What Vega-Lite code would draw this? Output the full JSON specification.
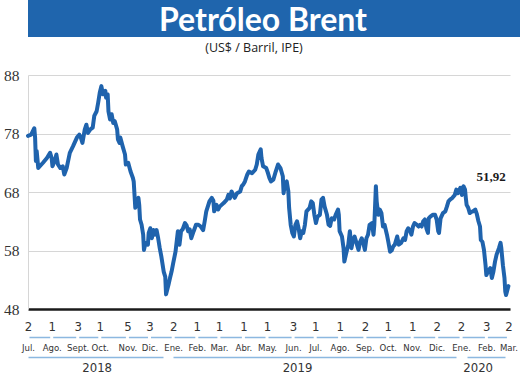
{
  "$schema": "https://vega.github.io/schema/vega-lite/v6.json",
  "background": "white",
  "padding": {"left": 3, "top": 0, "right": 4, "bottom": 0},
  "spacing": 4,
  "config": {"view": {"stroke": null}, "font": "Open Sans"},
  "vconcat": [
    {
      "width": 510,
      "height": 37,
      "view": {"fill": "#1f65ad", "stroke": null},
      "data": {"values": [{"t": "Petróleo Brent", "pos": 0.5}]},
      "mark": {"type": "text", "font": "Lato", "fontWeight": "bold", "fontSize": 32, "color": "white", "baseline": "middle", "align": "center", "dy": 2, "dx": -20},
      "encoding": {
        "text": {"field": "t"},
        "x": {"field": "pos", "type": "quantitative", "scale": {"domain": [0, 1]}, "axis": null},
        "y": {"field": "pos", "type": "quantitative", "scale": {"domain": [0, 1]}, "axis": null}
      }
    },
    {
      "width": 482,
      "height": 234,
      "title": {"text": "(US$ / Barril, IPE)", "fontSize": 12.5, "fontWeight": "normal", "font": "Open Sans", "color": "#222222", "offset": 14, "dx": -15},
      "resolve": {"axis": {"x": "independent", "y": "independent"}},
      "layer": [
        {
          "data": {"values": [
            {"d":"2018-07-02","p":77.6},{"d":"2018-07-06","p":77.8},{"d":"2018-07-10","p":78.9},{"d":"2018-07-11","p":77.3},{"d":"2018-07-12","p":73.3},{"d":"2018-07-13","p":75.0},{"d":"2018-07-15","p":72.1},{"d":"2018-07-21","p":73.0},{"d":"2018-07-26","p":73.8},{"d":"2018-07-30","p":74.7},
            {"d":"2018-08-01","p":73.8},{"d":"2018-08-02","p":72.4},{"d":"2018-08-05","p":73.3},{"d":"2018-08-07","p":74.4},{"d":"2018-08-09","p":72.7},{"d":"2018-08-12","p":72.1},{"d":"2018-08-15","p":72.4},{"d":"2018-08-17","p":71.0},{"d":"2018-08-20","p":72.1},{"d":"2018-08-24","p":74.7},{"d":"2018-08-28","p":75.8},
            {"d":"2018-09-02","p":77.3},{"d":"2018-09-05","p":77.8},{"d":"2018-09-07","p":77.3},{"d":"2018-09-09","p":76.4},{"d":"2018-09-12","p":78.7},{"d":"2018-09-14","p":79.5},{"d":"2018-09-16","p":78.1},{"d":"2018-09-19","p":78.7},{"d":"2018-09-22","p":79.0},{"d":"2018-09-24","p":81.0},{"d":"2018-09-27","p":81.8},{"d":"2018-09-29","p":83.3},
            {"d":"2018-10-01","p":85.0},{"d":"2018-10-03","p":86.1},{"d":"2018-10-05","p":84.7},{"d":"2018-10-08","p":85.3},{"d":"2018-10-09","p":84.1},{"d":"2018-10-11","p":84.7},{"d":"2018-10-12","p":81.8},{"d":"2018-10-14","p":80.4},{"d":"2018-10-16","p":81.3},{"d":"2018-10-18","p":79.8},{"d":"2018-10-20","p":80.1},{"d":"2018-10-23","p":78.7},{"d":"2018-10-24","p":77.0},{"d":"2018-10-26","p":76.4},{"d":"2018-10-27","p":77.3},{"d":"2018-10-30","p":75.8},
            {"d":"2018-11-02","p":74.4},{"d":"2018-11-03","p":72.7},{"d":"2018-11-06","p":73.0},{"d":"2018-11-09","p":71.5},{"d":"2018-11-12","p":70.4},{"d":"2018-11-13","p":69.8},{"d":"2018-11-15","p":65.3},{"d":"2018-11-17","p":66.4},{"d":"2018-11-19","p":67.0},{"d":"2018-11-20","p":65.8},{"d":"2018-11-21","p":63.3},{"d":"2018-11-23","p":62.4},{"d":"2018-11-25","p":60.7},{"d":"2018-11-26","p":58.1},{"d":"2018-11-28","p":59.3},
            {"d":"2018-12-01","p":59.0},{"d":"2018-12-02","p":61.0},{"d":"2018-12-04","p":61.8},{"d":"2018-12-06","p":60.1},{"d":"2018-12-08","p":61.5},{"d":"2018-12-10","p":60.7},{"d":"2018-12-12","p":61.5},{"d":"2018-12-14","p":60.1},{"d":"2018-12-16","p":58.4},{"d":"2018-12-18","p":57.0},{"d":"2018-12-21","p":54.4},{"d":"2018-12-23","p":53.5},{"d":"2018-12-24","p":50.5},{"d":"2018-12-27","p":52.1},{"d":"2018-12-29","p":53.3},{"d":"2018-12-31","p":54.4},
            {"d":"2019-01-02","p":55.8},{"d":"2019-01-05","p":57.8},{"d":"2019-01-08","p":61.3},{"d":"2019-01-10","p":59.0},{"d":"2019-01-12","p":61.3},{"d":"2019-01-14","p":61.6},{"d":"2019-01-17","p":62.7},{"d":"2019-01-19","p":62.3},{"d":"2019-01-21","p":61.3},{"d":"2019-01-23","p":61.6},{"d":"2019-01-25","p":60.1},{"d":"2019-01-28","p":61.3},{"d":"2019-01-31","p":62.4},
            {"d":"2019-02-03","p":62.4},{"d":"2019-02-06","p":62.1},{"d":"2019-02-09","p":61.5},{"d":"2019-02-11","p":63.0},{"d":"2019-02-13","p":64.7},{"d":"2019-02-17","p":66.4},{"d":"2019-02-20","p":67.0},{"d":"2019-02-22","p":66.5},{"d":"2019-02-23","p":64.7},{"d":"2019-02-26","p":65.8},{"d":"2019-02-28","p":65.0},
            {"d":"2019-03-02","p":65.5},{"d":"2019-03-07","p":66.1},{"d":"2019-03-11","p":66.7},{"d":"2019-03-13","p":67.5},{"d":"2019-03-15","p":66.9},{"d":"2019-03-17","p":68.1},{"d":"2019-03-19","p":67.5},{"d":"2019-03-21","p":67.0},{"d":"2019-03-24","p":67.8},{"d":"2019-03-28","p":68.1},{"d":"2019-03-30","p":69.0},
            {"d":"2019-04-01","p":69.3},{"d":"2019-04-03","p":69.8},{"d":"2019-04-06","p":71.0},{"d":"2019-04-08","p":71.5},{"d":"2019-04-12","p":71.2},{"d":"2019-04-16","p":71.8},{"d":"2019-04-18","p":72.7},{"d":"2019-04-20","p":74.4},{"d":"2019-04-23","p":75.3},{"d":"2019-04-24","p":73.8},{"d":"2019-04-26","p":72.4},{"d":"2019-04-30","p":72.1},
            {"d":"2019-05-02","p":71.3},{"d":"2019-05-04","p":70.4},{"d":"2019-05-06","p":69.8},{"d":"2019-05-09","p":70.1},{"d":"2019-05-12","p":71.5},{"d":"2019-05-15","p":72.7},{"d":"2019-05-18","p":72.1},{"d":"2019-05-21","p":70.7},{"d":"2019-05-22","p":67.8},{"d":"2019-05-24","p":69.5},{"d":"2019-05-26","p":69.8},{"d":"2019-05-28","p":68.1},{"d":"2019-05-29","p":65.3},{"d":"2019-05-31","p":62.4},
            {"d":"2019-06-02","p":61.0},{"d":"2019-06-04","p":60.4},{"d":"2019-06-06","p":62.4},{"d":"2019-06-08","p":63.0},{"d":"2019-06-10","p":61.8},{"d":"2019-06-12","p":60.1},{"d":"2019-06-14","p":61.3},{"d":"2019-06-16","p":61.0},{"d":"2019-06-18","p":62.4},{"d":"2019-06-20","p":64.7},{"d":"2019-06-24","p":65.3},{"d":"2019-06-26","p":66.4},{"d":"2019-06-28","p":66.1},{"d":"2019-06-30","p":64.1},
            {"d":"2019-07-02","p":62.7},{"d":"2019-07-04","p":63.8},{"d":"2019-07-07","p":64.1},{"d":"2019-07-09","p":66.7},{"d":"2019-07-11","p":67.0},{"d":"2019-07-13","p":65.5},{"d":"2019-07-16","p":64.1},{"d":"2019-07-18","p":62.4},{"d":"2019-07-20","p":62.2},{"d":"2019-07-22","p":63.5},{"d":"2019-07-25","p":63.3},{"d":"2019-07-27","p":64.1},{"d":"2019-07-30","p":65.0},{"d":"2019-07-31","p":64.1},
            {"d":"2019-08-01","p":61.3},{"d":"2019-08-04","p":60.4},{"d":"2019-08-06","p":58.4},{"d":"2019-08-07","p":56.1},{"d":"2019-08-09","p":57.3},{"d":"2019-08-12","p":59.0},{"d":"2019-08-14","p":61.3},{"d":"2019-08-16","p":58.4},{"d":"2019-08-18","p":59.8},{"d":"2019-08-20","p":60.4},{"d":"2019-08-23","p":59.0},{"d":"2019-08-25","p":58.1},{"d":"2019-08-27","p":59.5},{"d":"2019-08-29","p":60.1},{"d":"2019-08-31","p":59.3},
            {"d":"2019-09-02","p":58.1},{"d":"2019-09-04","p":60.1},{"d":"2019-09-06","p":60.7},{"d":"2019-09-08","p":62.4},{"d":"2019-09-11","p":62.7},{"d":"2019-09-13","p":60.7},{"d":"2019-09-14","p":62.4},{"d":"2019-09-16","p":69.0},{"d":"2019-09-17","p":66.4},{"d":"2019-09-19","p":64.1},{"d":"2019-09-21","p":65.0},{"d":"2019-09-23","p":64.4},{"d":"2019-09-25","p":62.1},{"d":"2019-09-27","p":62.4},{"d":"2019-09-30","p":60.7},
            {"d":"2019-10-02","p":59.3},{"d":"2019-10-04","p":57.8},{"d":"2019-10-06","p":58.0},{"d":"2019-10-08","p":58.7},{"d":"2019-10-10","p":59.0},{"d":"2019-10-13","p":60.4},{"d":"2019-10-15","p":59.0},{"d":"2019-10-18","p":59.3},{"d":"2019-10-21","p":60.1},{"d":"2019-10-23","p":59.8},{"d":"2019-10-25","p":61.3},{"d":"2019-10-27","p":61.8},{"d":"2019-10-29","p":61.5},{"d":"2019-10-31","p":60.7},
            {"d":"2019-11-02","p":62.1},{"d":"2019-11-04","p":62.7},{"d":"2019-11-07","p":62.4},{"d":"2019-11-09","p":62.1},{"d":"2019-11-11","p":62.4},{"d":"2019-11-13","p":62.1},{"d":"2019-11-15","p":63.0},{"d":"2019-11-17","p":63.3},{"d":"2019-11-19","p":61.8},{"d":"2019-11-21","p":61.0},{"d":"2019-11-22","p":63.5},{"d":"2019-11-24","p":63.8},{"d":"2019-11-27","p":64.1},{"d":"2019-11-30","p":64.1},
            {"d":"2019-12-02","p":63.3},{"d":"2019-12-04","p":61.3},{"d":"2019-12-05","p":61.0},{"d":"2019-12-07","p":63.5},{"d":"2019-12-10","p":64.4},{"d":"2019-12-13","p":64.7},{"d":"2019-12-15","p":65.5},{"d":"2019-12-17","p":66.4},{"d":"2019-12-19","p":66.7},{"d":"2019-12-22","p":67.0},{"d":"2019-12-25","p":67.5},{"d":"2019-12-27","p":68.4},{"d":"2019-12-29","p":67.8},
            {"d":"2020-01-01","p":68.7},{"d":"2020-01-03","p":67.5},{"d":"2020-01-05","p":69.0},{"d":"2020-01-07","p":68.4},{"d":"2020-01-08","p":67.0},{"d":"2020-01-09","p":65.8},{"d":"2020-01-11","p":65.3},{"d":"2020-01-13","p":64.4},{"d":"2020-01-15","p":64.6},{"d":"2020-01-17","p":64.7},{"d":"2020-01-20","p":65.0},{"d":"2020-01-22","p":64.2},{"d":"2020-01-24","p":63.0},{"d":"2020-01-26","p":62.1},{"d":"2020-01-27","p":59.8},{"d":"2020-01-29","p":59.5},{"d":"2020-01-31","p":58.1},
            {"d":"2020-02-02","p":55.5},{"d":"2020-02-03","p":53.8},{"d":"2020-02-05","p":54.4},{"d":"2020-02-08","p":55.0},{"d":"2020-02-10","p":53.3},{"d":"2020-02-12","p":54.4},{"d":"2020-02-14","p":56.1},{"d":"2020-02-16","p":57.3},{"d":"2020-02-19","p":58.4},{"d":"2020-02-21","p":59.3},{"d":"2020-02-22","p":58.4},{"d":"2020-02-24","p":55.5},{"d":"2020-02-26","p":53.3},{"d":"2020-02-27","p":51.0},{"d":"2020-02-28","p":50.4},{"d":"2020-03-02","p":51.92}
          ]},
          "mark": {"type": "line", "color": "#1f63ad", "strokeWidth": 4, "strokeJoin": "round", "strokeCap": "round"},
          "encoding": {
            "x": {
              "field": "d", "type": "temporal",
              "scale": {"type": "utc", "domain": [{"year": 2018, "month": "jul", "date": 2, "utc": true}, {"year": 2020, "month": "mar", "date": 4, "utc": true}]},
              "axis": {
                "orient": "bottom", "title": null, "grid": false,
                "values": [
                  {"year":2018,"month":"jul","date":2,"utc":true},{"year":2018,"month":"aug","date":1,"utc":true},{"year":2018,"month":"sep","date":3,"utc":true},{"year":2018,"month":"oct","date":1,"utc":true},{"year":2018,"month":"nov","date":5,"utc":true},{"year":2018,"month":"dec","date":3,"utc":true},
                  {"year":2019,"month":"jan","date":2,"utc":true},{"year":2019,"month":"feb","date":1,"utc":true},{"year":2019,"month":"mar","date":1,"utc":true},{"year":2019,"month":"apr","date":1,"utc":true},{"year":2019,"month":"may","date":1,"utc":true},{"year":2019,"month":"jun","date":3,"utc":true},
                  {"year":2019,"month":"jul","date":1,"utc":true},{"year":2019,"month":"aug","date":1,"utc":true},{"year":2019,"month":"sep","date":2,"utc":true},{"year":2019,"month":"oct","date":1,"utc":true},{"year":2019,"month":"nov","date":1,"utc":true},{"year":2019,"month":"dec","date":2,"utc":true},
                  {"year":2020,"month":"jan","date":2,"utc":true},{"year":2020,"month":"feb","date":3,"utc":true},{"year":2020,"month":"mar","date":2,"utc":true}
                ],
                "labelExpr": "'' + utcdate(datum.value)",
                "domain": true, "domainColor": "#1a1a1a", "domainWidth": 2.5,
                "ticks": false, "tickSize": 0,
                "labelPadding": 11, "labelFont": "Liberation Sans Narrow, DejaVu Sans Condensed, Open Sans", "labelFontSize": 13, "labelColor": "#333333",
                "labelFlush": false, "labelOverlap": false
              }
            },
            "y": {
              "field": "p", "type": "quantitative",
              "scale": {"domain": [48, 88], "zero": false, "nice": false},
              "axis": {
                "title": null, "values": [48, 58, 68, 78, 88],
                "grid": true, "gridColor": "#d6d6d6", "gridWidth": 1.2,
                "domain": true, "domainColor": "#d6d6d6", "domainWidth": 1,
                "ticks": false, "labelPadding": 9,
                "labelFont": "Liberation Serif", "labelFontSize": 15.5, "labelColor": "#333333"
              }
            }
          }
        },
        {
          "data": {"values": [{"d": "2020-02-09", "p": 70.6, "label": "51,92"}]},
          "mark": {"type": "text", "font": "Liberation Serif", "fontWeight": "bold", "fontSize": 13, "color": "#1a1a1a", "baseline": "middle", "align": "center"},
          "encoding": {
            "text": {"field": "label"},
            "x": {
              "field": "d", "type": "temporal",
              "scale": {"type": "utc", "domain": [{"year": 2018, "month": "jul", "date": 2, "utc": true}, {"year": 2020, "month": "mar", "date": 4, "utc": true}]},
              "axis": {
                "orient": "bottom", "offset": 28, "title": null, "grid": false,
                "values": [
                  {"year":2018,"month":"jul","date":2,"utc":true},{"year":2018,"month":"aug","date":1,"utc":true},{"year":2018,"month":"sep","date":3,"utc":true},{"year":2018,"month":"oct","date":1,"utc":true},{"year":2018,"month":"nov","date":5,"utc":true},{"year":2018,"month":"dec","date":3,"utc":true},
                  {"year":2019,"month":"jan","date":2,"utc":true},{"year":2019,"month":"feb","date":1,"utc":true},{"year":2019,"month":"mar","date":1,"utc":true},{"year":2019,"month":"apr","date":1,"utc":true},{"year":2019,"month":"may","date":1,"utc":true},{"year":2019,"month":"jun","date":3,"utc":true},
                  {"year":2019,"month":"jul","date":1,"utc":true},{"year":2019,"month":"aug","date":1,"utc":true},{"year":2019,"month":"sep","date":2,"utc":true},{"year":2019,"month":"oct","date":1,"utc":true},{"year":2019,"month":"nov","date":1,"utc":true},{"year":2019,"month":"dec","date":2,"utc":true},
                  {"year":2020,"month":"jan","date":2,"utc":true},{"year":2020,"month":"feb","date":3,"utc":true},{"year":2020,"month":"mar","date":2,"utc":true}
                ],
                "labelExpr": "['Ene.','Feb.','Mar.','Abr.','May.','Jun.','Jul.','Ago.',utcyear(datum.value)==2018?'Sept.':'Sep.','Oct.','Nov.','Dic.'][utcmonth(datum.value)]",
                "domain": true, "domainColor": "#8cb8e0", "domainWidth": 1.6,
                "domainDash": [0, 1, 20.7, 3, 23.0, 3, 19.1, 3, 24.6, 3, 19.1, 3, 20.7, 3, 20.6, 3, 19.1, 3, 21.5, 3, 20.6, 3, 23.1, 3, 19.1, 3, 21.4, 3, 22.3, 3, 19.8, 3, 21.5, 3, 21.5, 3, 21.4, 3, 22.3, 3, 19.0, 30],
                "ticks": false, "tickSize": 0,
                "labelPadding": 5, "labelDx": 4, "labelFont": "Liberation Sans Narrow, DejaVu Sans Condensed, Open Sans", "labelFontSize": 9.5, "labelColor": "#333333",
                "labelFlush": false, "labelOverlap": false
              }
            },
            "y": {"field": "p", "type": "quantitative", "scale": {"domain": [48, 88], "zero": false, "nice": false}, "axis": null}
          }
        },
        {
          "data": {"values": [{"d": "2020-03-02", "p": 51.92}]},
          "mark": {"type": "point", "opacity": 0},
          "encoding": {
            "x": {
              "field": "d", "type": "temporal",
              "scale": {"type": "utc", "domain": [{"year": 2018, "month": "jul", "date": 2, "utc": true}, {"year": 2020, "month": "mar", "date": 4, "utc": true}]},
              "axis": {
                "orient": "bottom", "offset": 48, "title": null, "grid": false,
                "values": [
                  {"year":2018,"month":"sep","date":27,"utc":true},{"year":2019,"month":"jun","date":8,"utc":true},{"year":2020,"month":"jan","date":23,"utc":true}
                ],
                "labelExpr": "'' + utcyear(datum.value)",
                "domain": true, "domainColor": "#8cb8e0", "domainWidth": 1.6,
                "domainDash": [135, 10, 283, 11, 38, 30],
                "ticks": false, "tickSize": 0,
                "labelPadding": 4, "labelFont": "Liberation Sans Narrow, DejaVu Sans Condensed, Open Sans", "labelFontSize": 13, "labelColor": "#333333",
                "labelFlush": false, "labelOverlap": false
              }
            },
            "y": {"field": "p", "type": "quantitative", "scale": {"domain": [48, 88], "zero": false, "nice": false}, "axis": null}
          }
        }
      ]
    }
  ]
}
